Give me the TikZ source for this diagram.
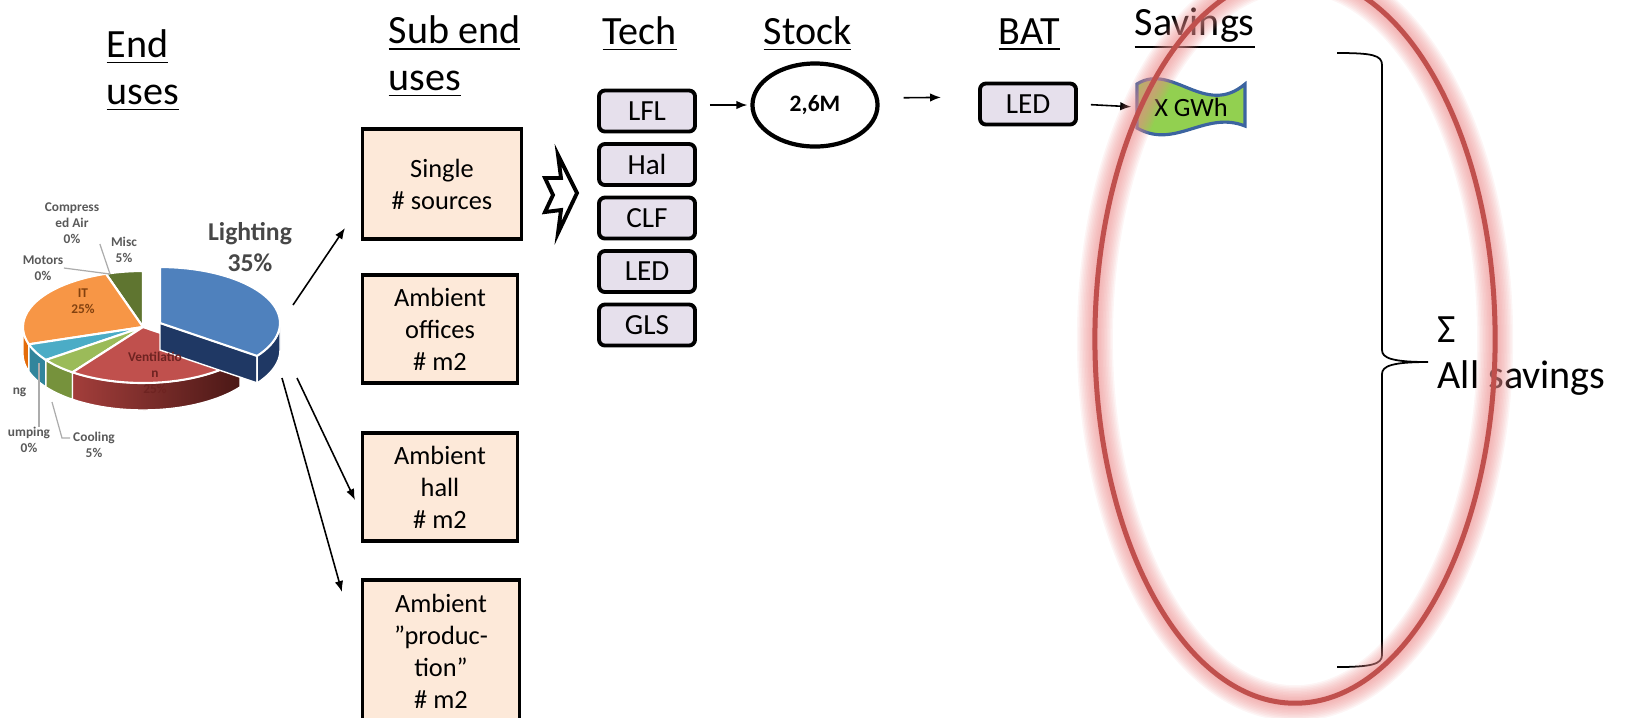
\documentclass[tikz,border=0pt]{standalone}
\usepackage{fontspec}
\setmainfont{Carlito}
\usetikzlibrary{arrows.meta,shapes.geometric}

\definecolor{pfirsich}{RGB}{253,233,217}
\definecolor{lila}{RGB}{230,224,236}
\definecolor{gruen}{RGB}{146,208,80}
\definecolor{rand}{RGB}{60,100,160}
\definecolor{kreis}{RGB}{192,80,77}
\definecolor{glut}{RGB}{236,140,140}
\definecolor{grau}{RGB}{89,89,89}
\definecolor{licht}{RGB}{79,129,189}
\definecolor{lichtdunkel}{RGB}{31,56,100}
\definecolor{vent}{RGB}{192,80,77}
\definecolor{venthell}{RGB}{163,62,59}
\definecolor{ventdunkel}{RGB}{75,24,22}
\definecolor{ventbraun}{RGB}{110,35,33}
\definecolor{kuehl}{RGB}{155,187,89}
\definecolor{kuehldunkel}{RGB}{118,146,60}
\definecolor{heiz}{RGB}{75,172,198}
\definecolor{heizdunkel}{RGB}{49,133,156}
\definecolor{it}{RGB}{247,150,70}
\definecolor{itdunkel}{RGB}{228,108,10}
\definecolor{itbraun}{RGB}{130,65,15}
\definecolor{misc}{RGB}{95,117,48}

\tikzset{
    kopf/.style={font=\fontsize{11.4}{13.2}\selectfont, align=left, inner sep=0pt, anchor=base west},
    teil/.style={draw, line width=1.1pt, fill=pfirsich, minimum width=1.55cm, minimum height=1.08cm,
        align=center, font=\fontsize{7.5}{9.1}\selectfont},
    tech/.style={draw, line width=1.1pt, rounded corners=0.06cm, fill=lila, minimum width=0.96cm,
        minimum height=0.41cm, inner sep=0pt, font=\fontsize{8.3}{10}\selectfont},
    pfeil/.style={-{Latex[length=0.11cm,width=0.085cm]}, line width=0.45pt},
    etikett/.style={font=\bfseries\fontsize{3.8}{4.5}\selectfont, text=grau, align=center, inner sep=0pt},
    fuehrung/.style={draw=grau!50, line width=0.35pt}
}

\begin{document}
\begin{tikzpicture}[x=0.01cm, y=-0.01cm]

    \useasboundingbox (0,0) rectangle (1625,717);

    % Überschriften (base = letzte Zeile)
    \node[kopf] (kend) at (106,104) {\underline{End}\\\underline{uses}};
    \node[kopf] (ksub) at (388,90) {\underline{Sub end}\\\underline{uses}};
    \node[kopf] (ktech) at (602,44) {\underline{Tech}};
    \node[kopf] (kstock) at (763,44) {\underline{Stock}};
    \node[kopf] (kbat) at (998,44) {\underline{BAT}};
    \node[kopf] (ksav) at (1134,35) {\underline{Savings}};

    % Tortendiagramm
    \def\cx{143} \def\cy{327} \def\rx{120} \def\ry{56} \def\tief{27}

    \foreach \von/\bis/\farbe in {180/198/itdunkel, 198/216/heizdunkel, 216/234/kuehldunkel}  %Seitenflächen
        \filldraw[fill=\farbe, draw=white, line width=0.4pt]
            plot[domain=\von:\bis, samples=12] ({\cx+\rx*cos(\x)}, {\cy-\ry*sin(\x)})
            -- plot[domain=\bis:\von, samples=12] ({\cx+\rx*cos(\x)}, {\cy+\tief-\ry*sin(\x)}) -- cycle;
    \path[left color=venthell, right color=ventdunkel, draw=white, line width=0.4pt]
        plot[domain=234:324, samples=30] ({\cx+\rx*cos(\x)}, {\cy-\ry*sin(\x)})
        -- plot[domain=324:234, samples=30] ({\cx+\rx*cos(\x)}, {\cy+\tief-\ry*sin(\x)}) -- cycle;

    \foreach \von/\bis/\farbe in {90/108/misc, 108/198/it, 198/216/heiz, 216/234/kuehl, 234/324/vent}  %Deckflächen
        \filldraw[fill=\farbe, draw=white, line width=0.6pt]
            (\cx,\cy) -- plot[domain=\von:\bis, samples=25] ({\cx+\rx*cos(\x)}, {\cy-\ry*sin(\x)}) -- cycle;

    \begin{scope}[shift={(17,-4)}]  %herausgezogenes Stück
        \filldraw[fill=lichtdunkel, draw=white, line width=0.4pt]
            (\cx,\cy) -- ({\cx+\rx*cos(-36)}, {\cy-\ry*sin(-36)}) -- ++(0,\tief) -- (\cx,\cy+\tief) -- cycle;
        \filldraw[fill=lichtdunkel, draw=white, line width=0.4pt]
            plot[domain=-36:0, samples=12] ({\cx+\rx*cos(\x)}, {\cy-\ry*sin(\x)})
            -- plot[domain=0:-36, samples=12] ({\cx+\rx*cos(\x)}, {\cy+\tief-\ry*sin(\x)}) -- cycle;
        \filldraw[fill=licht, draw=white, line width=0.6pt]
            (\cx,\cy) -- plot[domain=-36:90, samples=40] ({\cx+\rx*cos(\x)}, {\cy-\ry*sin(\x)}) -- cycle;
    \end{scope}

    % Beschriftung der Torte
    \node[etikett] (lcomp) at (72,223) {Compress\\ed Air\\0\%};
    \node[etikett] (lmotor) at (43,268) {Motors\\0\%};
    \node[etikett] (lmisc) at (124,250) {Misc\\5\%};
    \node[etikett, text=itbraun] (lit) at (83,301) {IT\\25\%};
    \node[etikett, text=ventbraun] (lvent) at (155,373) {Ventilatio\\n\\25\%};
    \node[etikett] (lkuehl) at (94,445) {Cooling\\5\%};
    \node[etikett] (lpump) at (29,440) {umping\\0\%};
    \node[etikett, anchor=east] (lheiz) at (27,392) {ng};
    \node[etikett, text=grau!80!black, font=\bfseries\fontsize{7.3}{8.8}\selectfont] (llicht) at (250,247) {Lighting\\35\%};

    \coordinate (spitze) at (110,274);
    \coordinate (pumpkante) at (39,363);
    \coordinate (kuehlkante) at (52,402);
    \draw[fuehrung] (lcomp.south east) -- (spitze);
    \draw[fuehrung] (lmotor.east) -- (spitze);
    \draw[fuehrung] (pumpkante) -- (pumpkante |- lpump.north);
    \draw[fuehrung] (kuehlkante) -- ++(10,36) -- ++(8,0);

    % Unterteilung
    \node[teil, minimum width=1.59cm, minimum height=1.1cm] (single) at (442,184) {Single\\\# sources};
    \node[teil] (offices) at (440,329) {Ambient\\offices\\\# m2};
    \node[teil] (hall) at (440,487) {Ambient\\hall\\\# m2};
    \node[teil, minimum width=1.57cm, minimum height=1.42cm] (produktion) at (441,651) {Ambient\\”produc-\\tion”\\\# m2};

    \coordinate (q1) at (293,305);  \coordinate (z1) at (345,228);
    \coordinate (q2) at (297,378);  \coordinate (z2) at (355,500);
    \coordinate (q3) at (282,378);  \coordinate (z3) at (342,592);
    \foreach \i in {1,2,3}
        \draw[pfeil] (q\i) -- (z\i);

    % Blockpfeil
    \draw[line width=1.1pt, fill=white, line join=miter]
        (558,155) -- (577,193) -- (558,233) -- (561,210) -- (545,212) -- (553,195) -- (545,178) -- (561,178) -- cycle;

    % Technologien
    \foreach \name [count=\i] in {LFL,Hal,CLF,LED,GLS}
        \node[tech] (t\i) at (647,{57.5+53.5*\i}) {\name};

    \node[draw, ellipse, line width=1.2pt, minimum width=1.25cm, minimum height=0.83cm, inner sep=0pt,
        font=\bfseries\fontsize{6.7}{8}\selectfont] (stock) at (815,105) {2,6M};
    \node[tech] (bat) at (1028,104) {LED};

    \draw[pfeil, shorten <=0.13cm, shorten >=0.03cm] (t1.east |- stock.west) -- (stock.west);
    \draw[pfeil, shorten <=0.24cm, shorten >=0.37cm] ([yshift=0.07cm]stock.east) -- ([yshift=0.07cm]bat.west);

    % Einsparung
    \filldraw[fill=gruen, draw=rand, line width=0.9pt]
        (1137,84) .. controls (1172,62) and (1205,118) .. (1245,84) -- (1245,126)
        .. controls (1205,110) and (1175,150) .. (1137,128) -- cycle;
    \node[font=\fontsize{7.5}{9}\selectfont, minimum width=1.08cm] (fahne) at (1191,107) {X GWh};
    \draw[pfeil, shorten <=0.13cm, shorten >=0.05cm] (bat.east) -- (fahne.west);

    % Klammer und Summe
    \draw[line width=0.5pt]
        (1337,53) .. controls (1372,53) and (1382,55) .. (1382,65) -- (1382,350)
        .. controls (1382,358) and (1392,362) .. (1428,362)
        .. controls (1392,362) and (1382,366) .. (1382,374) -- (1382,655)
        .. controls (1382,664) and (1372,667) .. (1337,667);
    \node[kopf, anchor=west] (summe) at (1437,356) {Σ\\All savings};

    % Markierung mit weichem Rand
    \foreach \w in {0.06,0.09,...,0.37}
        \draw[glut, line width=\w cm, opacity=0.09] (1295,339) ellipse [x radius=2cm, y radius=3.64cm];
    \draw[kreis, line width=0.05cm] (1295,339) ellipse [x radius=2cm, y radius=3.64cm];

\end{tikzpicture}
\end{document}
